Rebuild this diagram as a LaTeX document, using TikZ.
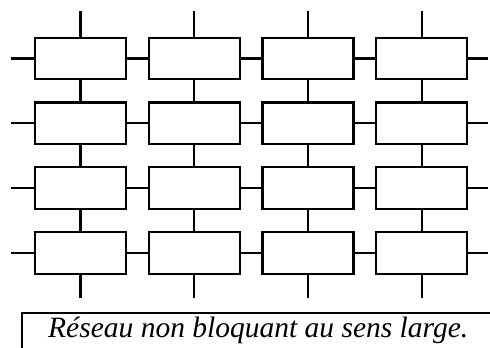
\documentclass[tikz,border=0pt]{standalone}
\usepackage{fontspec}
\setmainfont{Liberation Serif}
\usetikzlibrary{positioning}
\tikzset{
  sw/.style={draw=black,line width=2.2pt,fill=white,minimum width=91pt,minimum height=41.5pt,inner sep=0pt},
  wire/.style={line width=2.2pt},
  legend/.style={font=\itshape\fontsize{29.5}{32}\selectfont,anchor=base west,inner sep=0pt},
}

\begin{document}
\begin{tikzpicture}[x=1pt,y=-1pt]
  \useasboundingbox (0,0) rectangle (490,348);
  % commutateurs 4x4
  \foreach \r in {0,...,3}
    \foreach \c in {0,...,3}
      \node[sw] (b\r\c) at ({80.5+113.7*\c},{58.5+64.8*\r}) {};
  % entrees et sorties
  \foreach \c in {0,...,3} {
    \coordinate (t\c) at ({80.5+113.7*\c},11);
    \coordinate (u\c) at ({80.5+113.7*\c},298);
    \draw[wire] (t\c) -- (b0\c.north);
    \draw[wire] (b3\c.south) -- (u\c);
  }
  \foreach \r in {0,...,3} {
    \coordinate (l\r) at (11,{58.5+64.8*\r});
    \coordinate (e\r) at (488,{58.5+64.8*\r});
    \draw[wire] (l\r) -- (b\r0.west);
    \draw[wire] (b\r3.east) -- (e\r);
  }
  % liaisons internes
  \foreach \r in {0,...,3}
    \foreach \c in {0,1,2} {
      \pgfmathtruncatemacro{\n}{\c+1}
      \draw[wire] (b\r\c.east) -- (b\r\n.west);
    }
  \foreach \r in {0,1,2}
    \foreach \c in {0,...,3} {
      \pgfmathtruncatemacro{\n}{\r+1}
      \draw[wire] (b\r\c.south) -- (b\n\c.north);
    }
  % legende
  \draw[line width=1.8pt] (490,313) -- (22,313) -- (22,348);
  \node[legend] (cap) at (48,337) {Réseau non bloquant au sens large.};
\end{tikzpicture}
\end{document}
